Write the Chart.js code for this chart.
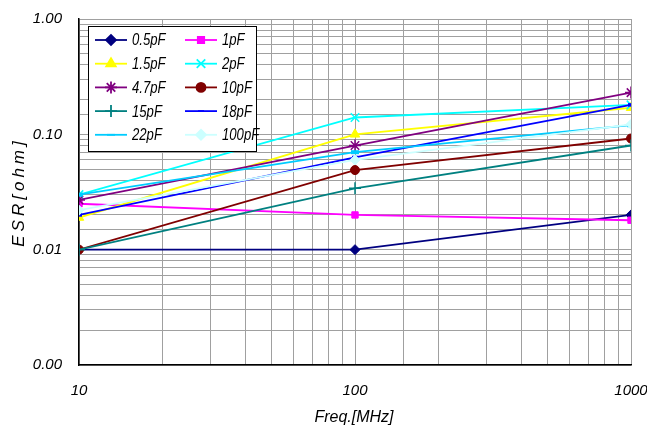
<!DOCTYPE html>
<html>
<head>
<meta charset="utf-8">
<script src="https://cdn.jsdelivr.net/npm/chart.js@4/dist/chart.umd.min.js"></script>
<style>
  html, body { margin: 0; padding: 0; background: #fff; }
  #wrap { width: 647px; height: 435px; }
</style>
</head>
<body>
<div id="wrap"><canvas id="esrChart" width="647" height="435"></canvas></div>
<script>
// Data (ESR vs frequency, log-log)
const freqs = [10, 100, 1000];
const esr0p5 = [0.010, 0.010, 0.020];
const esr1 = [0.025, 0.020, 0.018];
const esr1p5 = [0.019, 0.100, 0.170];
const esr2 = [0.030, 0.140, 0.180];
const esr4p7 = [0.027, 0.080, 0.230];
const esr10 = [0.010, 0.049, 0.092];
const esr15 = [0.010, 0.034, 0.080];
const esr18 = [0.020, 0.063, 0.180];
const esr22 = [0.030, 0.070, 0.120];
const esr100 = [0.022, 0.060, 0.122];
const seriesLabels = ['0.5pF', '1pF', '1.5pF', '2pF', '4.7pF', '10pF', '15pF', '18pF', '22pF', '100pF'];
const xTickLabels = ['10', '100', '1000'];
const yTickLabels = ['0.00', '0.01', '0.10', '1.00'];

const FONT = "'Liberation Sans', Arial, sans-serif";

const seriesData = [esr0p5, esr1, esr1p5, esr2, esr4p7, esr10, esr15, esr18, esr22, esr100];
const colors = ['#000080', '#FF00FF', '#FFFF00', '#00FFFF', '#800080', '#800000', '#008080', '#0000FF', '#00CCFF', '#CCFFFF'];
const markers = [
    {style: 'rectRot', r: 5, bw: 1},
    {style: 'rect', r: 4.5, bw: 1},
    {style: 'triangle', r: 5.5, bw: 1},
    {style: 'crossRot', r: 6, bw: 1.5},
    {style: 'star', r: 6, bw: 1.5},
    {style: 'circle', r: 4.5, bw: 1},
    {style: 'cross', r: 6, bw: 1.5},
    {style: 'line', r: 3, bw: 3.5},
    {style: 'line', r: 4, bw: 4},
    {style: 'rectRot', r: 5, bw: 1}
];

const datasets = seriesLabels.map((label, i) => ({
    label: label,
    data: freqs.map((f, j) => ({x: f, y: seriesData[i][j]})),
    borderColor: colors[i],
    backgroundColor: colors[i],
    pointBackgroundColor: colors[i],
    pointBorderColor: colors[i],
    pointStyle: markers[i].style,
    pointRadius: markers[i].r,
    pointBorderWidth: markers[i].bw,
    borderWidth: 1.8,
    tension: 0,
    order: -i   // later series on top, like the original
}));

function isDecade(v){
    const l = Math.log10(v);
    return Math.abs(l - Math.round(l)) < 1e-6;
}

// fallback marker if helpers are not exposed
function drawMarker(ctx, m, x, y){
    if(Chart.helpers && Chart.helpers.drawPoint){
        Chart.helpers.drawPoint(ctx, {pointStyle: m.style, radius: m.r, rotation: 0, borderWidth: m.bw}, x, y);
    } else {
        ctx.beginPath(); ctx.arc(x, y, m.r, 0, Math.PI*2); ctx.fill();
    }
}

// condensed italic text, the original uses a narrow face
function narrowText(ctx, text, x, y, size){
    ctx.save();
    ctx.font = 'italic ' + size + 'px ' + FONT;
    ctx.translate(x, y);
    ctx.scale(0.82, 1);
    ctx.fillText(text, 0, 0);
    ctx.restore();
}

// Legend box inside the plot + axis titles
const decorPlugin = {
    id: 'decor',
    afterDraw(chart){
        const ctx = chart.ctx;
        ctx.save();
        // legend box
        ctx.fillStyle = '#fff';
        ctx.fillRect(88, 26, 168, 125);
        ctx.strokeStyle = '#000';
        ctx.lineWidth = 1;
        ctx.strokeRect(88.5, 26.5, 168, 125);
        ctx.textBaseline = 'middle';
        ctx.textAlign = 'left';
        seriesLabels.forEach((label, i) => {
            const col = i % 2, row = Math.floor(i / 2);
            const x0 = col === 0 ? 95 : 185;
            const y = 40 + row * 23.7;
            ctx.strokeStyle = colors[i];
            ctx.lineWidth = 1.8;
            ctx.beginPath(); ctx.moveTo(x0, y); ctx.lineTo(x0 + 32, y); ctx.stroke();
            ctx.fillStyle = colors[i];
            ctx.strokeStyle = colors[i];
            drawMarker(ctx, markers[i], x0 + 16, y);
            ctx.fillStyle = '#000';
            narrowText(ctx, label, x0 + 37, y + 1, 16);
        });
        // axis titles
        ctx.fillStyle = '#000';
        ctx.font = 'italic 16px ' + FONT;
        ctx.textAlign = 'center';
        ctx.textBaseline = 'middle';
        ctx.fillText('Freq.[MHz]', 354, 418);
        ctx.translate(19, 194);
        ctx.rotate(-Math.PI / 2);
        ctx.font = 'italic 17px ' + FONT;
        ctx.letterSpacing = '4px';
        ctx.fillText('ESR[ohm]', 2, 0);
        ctx.restore();
    }
};

new Chart(document.getElementById('esrChart').getContext('2d'), {
    type: 'line',
    data: { datasets: datasets },
    plugins: [decorPlugin],
    options: {
        responsive: false,
        animation: false,
        layout: { padding: { top: 19, right: 16, left: 0, bottom: 0 } },
        plugins: { legend: { display: false }, tooltip: { enabled: false } },
        scales: {
            x: {
                type: 'logarithmic',
                min: 10, max: 1000,
                afterFit: s => { s.height = 70; s.paddingLeft = 0; s.paddingRight = 0; },
                grid: { color: '#a0a0a0', lineWidth: 1, drawTicks: false },
                border: { color: '#000', width: 1.5 },
                ticks: {
                    autoSkip: false, maxRotation: 0, padding: 17,
                    color: '#000',
                    font: { family: FONT, size: 15, style: 'italic' },
                    callback: v => isDecade(v) ? xTickLabels[Math.round(Math.log10(v)) - 1] : ''
                }
            },
            y: {
                type: 'logarithmic',
                min: 0.001, max: 1,
                afterFit: s => { s.width = 79; s.paddingTop = 0; s.paddingBottom = 0; },
                grid: { color: '#a0a0a0', lineWidth: 1, drawTicks: false },
                border: { color: '#000', width: 1.5 },
                ticks: {
                    autoSkip: false, padding: 17,
                    color: '#000',
                    font: { family: FONT, size: 15, style: 'italic' },
                    callback: v => isDecade(v) ? yTickLabels[Math.round(Math.log10(v)) + 3] : ''
                }
            }
        }
    }
});
</script>
</body>
</html>
